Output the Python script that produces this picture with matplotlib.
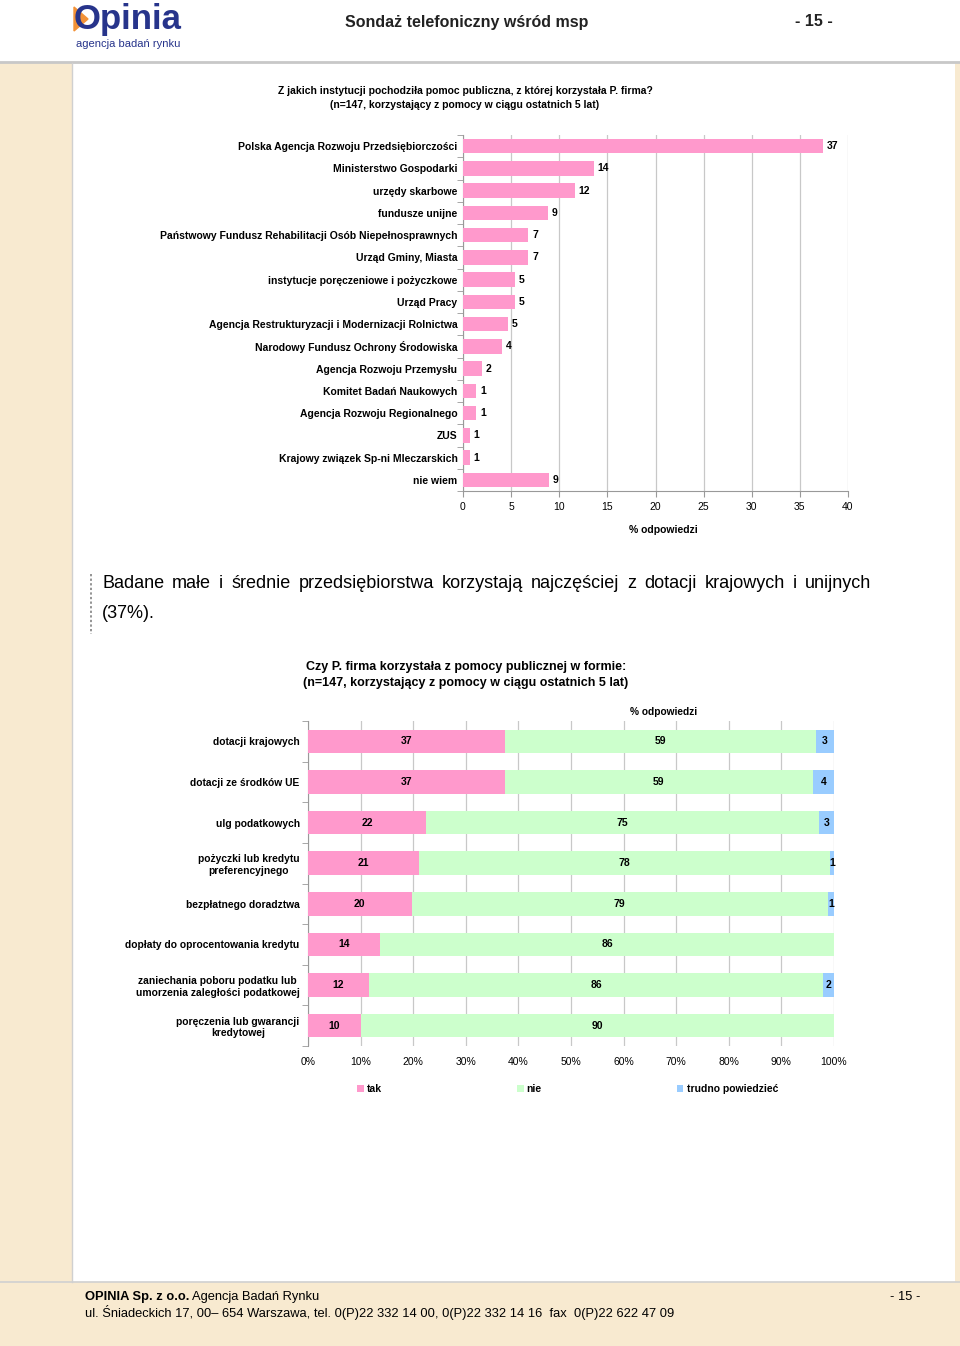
import matplotlib
matplotlib.use("Agg")
import matplotlib.pyplot as plt
from matplotlib.patches import Rectangle, Polygon
from matplotlib.lines import Line2D
import numpy as np

W, H = 960, 1346
FONT = ["Liberation Sans", "DejaVu Sans"]
plt.rcParams["font.family"] = FONT

# --- wykres 1: instytucje ---
inst_labels = [
    "Polska Agencja Rozwoju Przedsiębiorczości",
    "Ministerstwo Gospodarki",
    "urzędy skarbowe",
    "fundusze unijne",
    "Państwowy Fundusz Rehabilitacji Osób Niepełnosprawnych",
    "Urząd Gminy, Miasta",
    "instytucje poręczeniowe i pożyczkowe",
    "Urząd Pracy",
    "Agencja Restrukturyzacji i Modernizacji Rolnictwa",
    "Narodowy Fundusz Ochrony Środowiska",
    "Agencja Rozwoju Przemysłu",
    "Komitet Badań Naukowych",
    "Agencja Rozwoju Regionalnego",
    "ZUS",
    "Krajowy związek Sp-ni Mleczarskich",
    "nie wiem",
]
inst_values = [37.4, 13.6, 11.6, 8.8, 6.8, 6.8, 5.4, 5.4, 4.7, 4.1, 2.0, 1.4, 1.4, 0.7, 0.7, 8.9]
inst_ticks = [0, 5, 10, 15, 20, 25, 30, 35, 40]

# --- wykres 2: formy pomocy ---
form_labels = [
    "dotacji krajowych",
    "dotacji ze środków UE",
    "ulg podatkowych",
    "pożyczki lub kredytu\npreferencyjnego",
    "bezpłatnego doradztwa",
    "dopłaty do oprocentowania kredytu",
    "zaniechania poboru podatku lub\numorzenia zaległości podatkowej",
    "poręczenia lub gwarancji\nkredytowej",
]
tak = [37.4, 37.4, 22.4, 21.1, 19.7, 13.7, 11.6, 10.1]
nie = [59.2, 58.6, 74.8, 78.2, 79.1, 86.3, 86.3, 89.9]
trudno = [3.4, 4.0, 2.8, 0.7, 1.2, 0.0, 2.1, 0.0]
series_names = ["tak", "nie", "trudno powiedzieć"]
series_colors = ["#FF99CC", "#CCFFCC", "#99CCFF"]
pct_ticks = list(range(0, 101, 10))

PINK = "#FF99CC"
GRID = "#C8C8C8"
BEIGE = "#F8EAD0"


def fx(x):
    return x / W


def fy(y):
    return 1 - y / H


def add_axes_px(fig, left, top, right, bottom):
    return fig.add_axes([fx(left), fy(bottom), (right - left) / W, (bottom - top) / H])


fig = plt.figure(figsize=(W / 100, H / 100), dpi=100, facecolor="white")
renderer = fig.canvas.get_renderer()

# tło strony: pasek boczny, stopka, linie
bg = [
    Rectangle((0, fy(1282)), fx(72), fy(63) - fy(1282), color=BEIGE, lw=0),
    Rectangle((fx(955), fy(1282)), fx(5), fy(63) - fy(1282), color=BEIGE, lw=0),
    Rectangle((0, 0), 1, fy(1282), color=BEIGE, lw=0),
]
for p in bg:
    p.set_transform(fig.transFigure)
    fig.add_artist(p)
for ln in [
    Line2D([0, 1], [fy(62), fy(62)], color="#C8C8C8", lw=2),
    Line2D([0, 1], [fy(1282), fy(1282)], color="#D0D0D0", lw=1.2),
    Line2D([fx(72), fx(72)], [fy(63), fy(1282)], color="#D0D0D0", lw=1),
]:
    ln.set_transform(fig.transFigure)
    fig.add_artist(ln)

# nagłówek z logo
fig.text(fx(74), fy(19), "Opinia", fontsize=25, fontweight="bold", color="#27348B",
         va="center", ha="left")
wedge = Polygon([(fx(74), fy(7)), (fx(88), fy(19)), (fx(74), fy(31))], closed=True,
                color="#F39237", transform=fig.transFigure)
fig.add_artist(wedge)
fig.text(fx(76), fy(44), "agencja badań rynku", fontsize=8, color="#27348B",
         va="center", ha="left")
fig.text(fx(467), fy(22), "Sondaż telefoniczny wśród msp", fontsize=11.5,
         fontweight="bold", color="#222222", ha="center", va="center")
fig.text(fx(814), fy(22), "- 15 -", fontsize=11.5, fontweight="bold",
         color="#222222", ha="center", va="center")

# --- wykres 1 ---
fig.text(fx(465), fy(91), "Z jakich instytucji pochodziła pomoc publiczna, z której korzystała P. firma?",
         fontsize=7.5, fontweight="bold", ha="center", va="center")
fig.text(fx(465), fy(105), "(n=147, korzystający z pomocy w ciągu ostatnich 5 lat)",
         fontsize=7.5, fontweight="bold", ha="center", va="center")

ax1 = add_axes_px(fig, 463, 135, 848, 491)
y1 = np.arange(len(inst_labels))
ax1.barh(y1, inst_values, height=0.66, color=PINK, zorder=3)
for yi, v in zip(y1, inst_values):
    ax1.text(v + 0.4, yi, f"{v:.0f}", fontsize=7.5, fontweight="bold",
             ha="left", va="center", zorder=4)
ax1.set_xlim(0, 40)
ax1.set_ylim(len(inst_labels) - 0.5, -0.5)
ax1.set_xticks(inst_ticks)
ax1.set_xticklabels([str(t) for t in inst_ticks], fontsize=7.5)
ax1.set_yticks(y1)
ax1.set_yticklabels(inst_labels, fontsize=7.5, fontweight="bold")
ax1.set_yticks(np.arange(-0.5, len(inst_labels)), minor=True)
ax1.tick_params(axis="y", which="major", length=0, pad=4)
ax1.tick_params(axis="y", which="minor", length=4, color="#999999")
ax1.tick_params(axis="x", length=4, color="#999999", pad=4)
ax1.xaxis.grid(True, color=GRID, lw=0.9, zorder=0)
for s in ["top", "right"]:
    ax1.spines[s].set_visible(False)
for s in ["left", "bottom"]:
    ax1.spines[s].set_color("#999999")
ax1.set_facecolor("none")
fig.text(fx(663), fy(530), "% odpowiedzi", fontsize=7.5, fontweight="bold",
         ha="center", va="center")

# --- akapit wyjustowany ---
line = Line2D([fx(91), fx(91)], [fy(574), fy(634)], color="#777777", lw=1.1,
              linestyle=(0, (1.5, 1.5)), transform=fig.transFigure)
fig.add_artist(line)
words = "Badane małe i średnie przedsiębiorstwa korzystają najczęściej z dotacji krajowych i unijnych".split()
wtexts = [fig.text(0, fy(584), w, fontsize=13, ha="left", va="center") for w in words]
widths = [t.get_window_extent(renderer).width for t in wtexts]
gap = (871 - 102 - sum(widths)) / (len(words) - 1)
xpos = 102
for t, w in zip(wtexts, widths):
    t.set_x(fx(xpos))
    xpos += w + gap
fig.text(fx(102), fy(614), "(37%).", fontsize=13, ha="left", va="center")

# --- wykres 2 ---
fig.text(fx(466), fy(667), "Czy P. firma korzystała z pomocy publicznej w formie:",
         fontsize=9, fontweight="bold", ha="center", va="center")
fig.text(fx(466), fy(683), "(n=147, korzystający z pomocy w ciągu ostatnich 5 lat)",
         fontsize=9, fontweight="bold", ha="center", va="center")
fig.text(fx(664), fy(712), "% odpowiedzi", fontsize=7.3, fontweight="bold",
         ha="center", va="center")

ax2 = add_axes_px(fig, 308, 721, 834, 1046)
y2 = np.arange(len(form_labels))
data = np.array([tak, nie, trudno])
totals = data.sum(axis=0)
shares = data / totals * 100
left = np.zeros(len(form_labels))
handles = []
for vals, shr, name, col in zip(data, shares, series_names, series_colors):
    b = ax2.barh(y2, shr, left=left, height=0.58, color=col, label=name, zorder=3)
    handles.append(b)
    for yi, v, s, l0 in zip(y2, vals, shr, left):
        if v > 0:
            ax2.text(l0 + s / 2, yi, f"{v:.0f}", fontsize=7.5, fontweight="bold",
                     ha="center", va="center", zorder=4)
    left = left + shr
ax2.set_xlim(0, 100)
ax2.set_ylim(len(form_labels) - 0.5, -0.5)
ax2.set_xticks(pct_ticks)
ax2.set_xticklabels([f"{t}%" for t in pct_ticks], fontsize=7.5)
ax2.set_yticks(y2)
ax2.set_yticklabels(form_labels, fontsize=7.4, fontweight="bold", ha="right",
                    multialignment="center")
ax2.tick_params(axis="y", which="major", length=0, pad=6)
ax2.set_yticks(np.arange(-0.5, len(form_labels)), minor=True)
ax2.tick_params(axis="y", which="minor", length=4, color="#999999")
ax2.tick_params(axis="x", length=0, pad=8)
ax2.xaxis.grid(True, color=GRID, lw=0.9, zorder=0)
for s in ["top", "right", "bottom"]:
    ax2.spines[s].set_visible(False)
ax2.spines["left"].set_color("#999999")
ax2.set_facecolor("none")

fig.legend(handles=handles, labels=series_names, loc="center left",
           bbox_to_anchor=(fx(348), fy(1089)), ncol=3, frameon=False,
           handlelength=0.6, handleheight=0.6, handletextpad=0.3,
           columnspacing=13.0, prop={"size": 7.5, "weight": "bold"})

# stopka
t_bold = fig.text(fx(85), fy(1297), "OPINIA Sp. z o.o.", fontsize=9.3, fontweight="bold",
                  ha="left", va="center")
bw = t_bold.get_window_extent(renderer).width
fig.text(fx(85 + bw + 3), fy(1297), "Agencja Badań Rynku", fontsize=9.3,
         ha="left", va="center")
fig.text(fx(85), fy(1312),
         "ul. Śniadeckich 17, 00– 654 Warszawa, tel. 0(P)22 332 14 00, 0(P)22 332 14 16  fax  0(P)22 622 47 09",
         fontsize=9.3, ha="left", va="center")
fig.text(fx(905), fy(1297), "- 15 -", fontsize=9.3, ha="center", va="center")

fig.savefig("out.png", dpi=100, facecolor=fig.get_facecolor())
